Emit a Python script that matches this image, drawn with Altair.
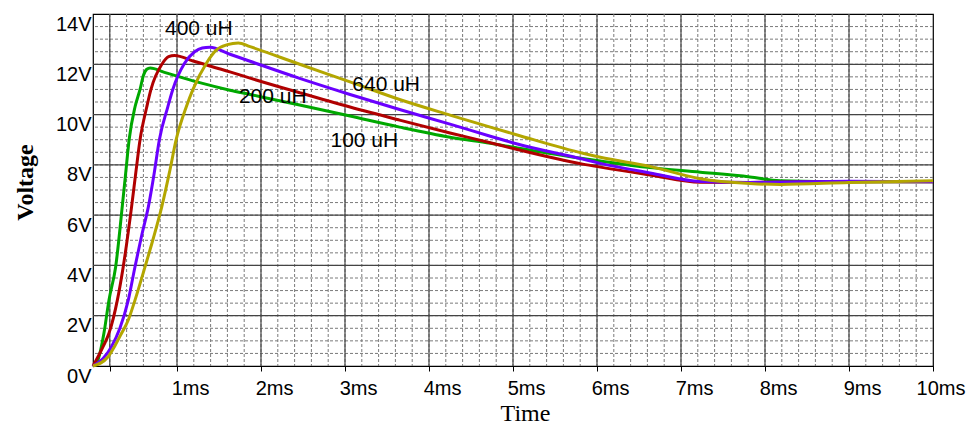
import altair as alt
import pandas as pd

# ---- data (time in ms, voltage in V) ----
t_100 = [0, 0.06, 0.13, 0.19, 0.27, 0.35, 0.39, 0.43, 0.50, 0.56, 0.60, 0.64, 0.68, 0.85, 1.27, 1.63, 1.87,
         2.46, 3.06, 3.65, 4.25, 4.73, 5.04, 5.83, 6.04, 6.63, 7.23, 7.82, 8.18, 9.0, 10.0]
v_100 = [0, 0.25, 1.3, 2.62, 3.95, 6.4, 7.7, 9.0, 10.3, 11.0, 11.55, 11.8, 11.85, 11.68, 11.27, 10.97, 10.8,
         10.38, 9.94, 9.5, 9.1, 8.86, 8.68, 8.25, 8.15, 7.89, 7.71, 7.52, 7.37, 7.33, 7.33]

t_200 = [0, 0.12, 0.19, 0.29, 0.36, 0.46, 0.51, 0.56, 0.64, 0.69, 0.82, 0.90, 0.97, 1.20, 1.63, 1.87,
         2.46, 3.06, 3.65, 4.25, 4.73, 5.04, 5.83, 6.04, 6.63, 7.23, 7.82, 9.0, 10.0]
v_200 = [0, 0.77, 1.3, 2.62, 3.95, 6.35, 7.7, 9.0, 10.3, 11.0, 12.0, 12.3, 12.35, 12.12, 11.7, 11.45,
         10.87, 10.3, 9.78, 9.27, 8.88, 8.62, 8.03, 7.91, 7.6, 7.31, 7.3, 7.33, 7.33]

t_400 = [0, 0.12, 0.22, 0.32, 0.42, 0.50, 0.58, 0.66, 0.73, 0.79, 0.89, 0.95, 1.09, 1.21, 1.30, 1.39, 1.63, 1.87,
         2.46, 3.06, 3.65, 4.25, 4.73, 5.04, 5.83, 6.04, 6.63, 7.23, 7.82, 9.0, 10.0]
v_400 = [0, 0.3, 0.77, 1.5, 2.62, 3.95, 5.2, 6.35, 7.7, 9.0, 10.3, 11.0, 12.04, 12.5, 12.65, 12.68, 12.4, 12.12,
         11.44, 10.8, 10.2, 9.62, 9.14, 8.84, 8.23, 8.06, 7.68, 7.34, 7.3, 7.35, 7.33]

t_640 = [0, 0.18, 0.26, 0.34, 0.42, 0.50, 0.62, 0.72, 0.82, 0.91, 0.99, 1.11, 1.19, 1.35, 1.47, 1.60, 1.73, 1.87,
         2.46, 3.06, 3.65, 4.25, 4.73, 5.04, 5.83, 6.04, 6.63, 7.23, 7.82, 8.18, 9.0, 10.0]
v_640 = [0, 0.37, 0.8, 1.3, 1.83, 2.62, 3.95, 5.1, 6.35, 7.7, 9.0, 10.3, 11.0, 12.04, 12.57, 12.78, 12.85, 12.7,
         12.0, 11.3, 10.6, 9.98, 9.5, 9.2, 8.46, 8.3, 7.94, 7.45, 7.26, 7.22, 7.3, 7.37]

series_names = ["100 uH", "200 uH", "400 uH", "640 uH"]
series_colors = ["#00A800", "#B00000", "#6A00FF", "#B3A600"]

label_text = ["400 uH", "200 uH", "640 uH", "100 uH"]
label_t = [1.26, 2.14, 3.49, 3.23]
label_v = [13.4, 10.7, 11.18, 8.95]

x_ticks = [0.2, 1, 2, 3, 4, 5, 6, 7, 8, 9, 10]
y_ticks = [0, 2, 4, 6, 8, 10, 12, 14]
minor_x = [round(0.2 * i, 1) for i in range(1, 50)]
minor_y = [0.5 * i for i in range(1, 28)]
major_x = [0.2, 1, 2, 3, 4, 5, 6, 7, 8, 9]
major_y = [2, 4, 6, 8, 10, 12]

# ---- tables ----
rows = []
for name, ts, vs in zip(series_names, [t_100, t_200, t_400, t_640], [v_100, v_200, v_400, v_640]):
    for t, v in zip(ts, vs):
        rows.append({"series": name, "t": t, "v": v})
df = pd.DataFrame(rows)
labels_df = pd.DataFrame({"label": label_text, "t": label_t, "v": label_v})

xs = alt.Scale(domain=[0, 10], nice=False, zero=False)
ys = alt.Scale(domain=[0, 14], nice=False, zero=False)

x_axis = alt.Axis(
    values=x_ticks, labelExpr="datum.value >= 1 ? datum.value + 'ms' : ''",
    grid=False, domain=False, ticks=True, tickSize=5, tickColor="#000000",
    labelFont="Liberation Sans", labelFontSize=20, labelColor="#000000",
    labelAlign="right", labelOffset=32, labelBaseline="alphabetic", labelPadding=23,
    labelFlush=False, labelOverlap=False,
    title="Time", titleFont="Liberation Serif", titleFontSize=24, titleFontWeight="normal",
    titleColor="#000000", titleX=432, titleY=54, titleBaseline="alphabetic", titleAlign="center",
)
y_axis = alt.Axis(
    values=y_ticks, labelExpr="datum.value + 'V'",
    grid=False, domain=False, ticks=False, tickSize=0,
    labelFont="Liberation Sans", labelFontSize=20, labelColor="#000000",
    labelAlign="right", labelBaseline="alphabetic", labelOffset=16, labelPadding=2,
    labelFlush=False, labelOverlap=False,
    title="Voltage", titleFont="Liberation Serif", titleFontSize=24, titleFontWeight="bold",
    titleColor="#000000", titleAngle=270, titleX=-68, titleY=168,
    titleAlign="center", titleBaseline="middle",
)

minor_x_rules = alt.Chart(pd.DataFrame({"x": minor_x})).mark_rule(
    color="#7a7a7a", strokeWidth=1, strokeDash=[3, 2]
).encode(x=alt.X("x:Q", scale=xs, axis=x_axis))
minor_y_rules = alt.Chart(pd.DataFrame({"y": minor_y})).mark_rule(
    color="#7a7a7a", strokeWidth=1, strokeDash=[3, 2]
).encode(y=alt.Y("y:Q", scale=ys, axis=y_axis))
major_x_rules = alt.Chart(pd.DataFrame({"x": major_x})).mark_rule(
    color="#444444", strokeWidth=1.2
).encode(x=alt.X("x:Q", scale=xs, axis=x_axis))
major_y_rules = alt.Chart(pd.DataFrame({"y": major_y})).mark_rule(
    color="#444444", strokeWidth=1.2
).encode(y=alt.Y("y:Q", scale=ys, axis=y_axis))

lines = alt.Chart(df).mark_line(strokeWidth=3, interpolate="monotone").encode(
    x=alt.X("t:Q", scale=xs, axis=x_axis),
    y=alt.Y("v:Q", scale=ys, axis=y_axis),
    color=alt.Color("series:N", scale=alt.Scale(domain=series_names, range=series_colors), legend=None),
)

texts = alt.Chart(labels_df).mark_text(
    font="Liberation Sans", fontSize=21, color="#000000", align="center", baseline="middle"
).encode(
    x=alt.X("t:Q", scale=xs, axis=x_axis),
    y=alt.Y("v:Q", scale=ys, axis=y_axis),
    text="label:N",
)

chart = alt.layer(
    minor_x_rules, minor_y_rules, major_x_rules, major_y_rules, lines, texts
).properties(
    width=840, height=352,
    padding={"left": 93, "top": 14, "right": 37, "bottom": 60},
    autosize=alt.AutoSizeParams(type="none"),
    background="#ffffff",
).configure_view(stroke="#000000", strokeWidth=1.2)

chart.save("out.html", embed_options={"renderer": "svg", "actions": False})
